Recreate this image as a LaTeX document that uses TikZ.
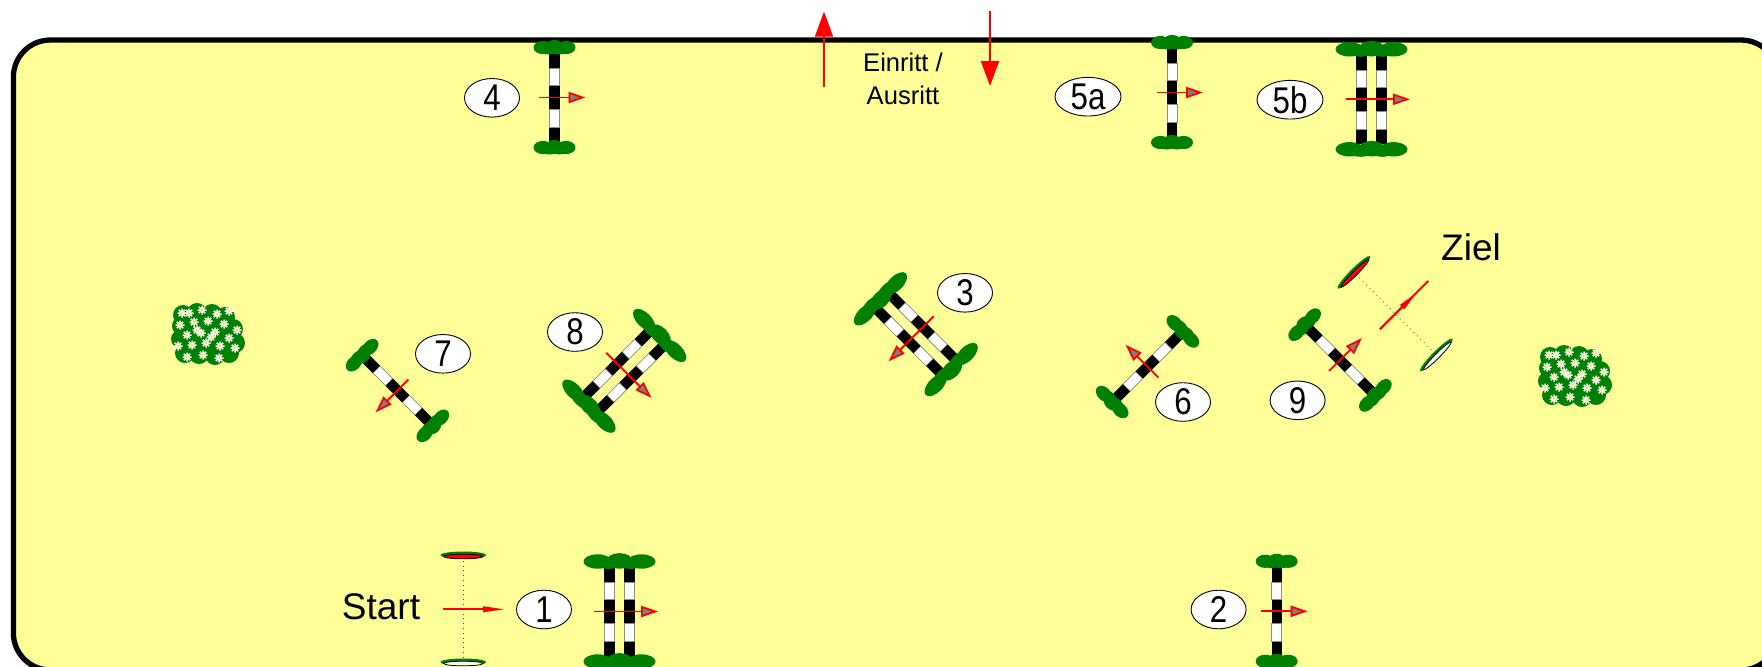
\documentclass[tikz,border=0pt]{standalone}
\usepackage{fontspec}
\usepackage{graphicx}
\setmainfont{Liberation Sans}
\usetikzlibrary{shapes.geometric,arrows.meta,calc}
\definecolor{arena}{HTML}{FFFF99}
\definecolor{stdgreen}{HTML}{008000}
\definecolor{tipgray}{HTML}{808080}
\newcommand\narrow[1]{\scalebox{0.84}[1]{#1}}
\tikzset{
  lbl/.style={ellipse, draw=black, line width=0.45pt, fill=white, inner sep=0pt,
    minimum width=27.5pt, minimum height=19.3pt, font=\fontsize{18.6}{20}\selectfont},
  lblwide/.style={lbl, minimum width=33pt},
  dirarrow/.style={red, line width=0.9pt, -{Triangle[length=8.5pt,width=5.6pt,fill=tipgray]}},
  gatearrow/.style={red, line width=1pt, -{Triangle[length=12.5pt,width=9pt]}},
  linearrow/.style={red, line width=1pt, -{Triangle[length=11pt,width=2.8pt]}},
  gateline/.style={draw=black!70, line width=0.4pt, dotted},
  bigtext/.style={font=\fontsize{18.5}{22}\selectfont, inner sep=0pt},
  smalltext/.style={font=\fontsize{12.8}{15}\selectfont, inner sep=0pt},
}
\newcommand\polebar[1]{%
  \fill[black] ({#1-5.2},-45) rectangle ({#1+5.2},45);
  \filldraw[fill=white, draw=black!45, line width=0.25pt] ({#1-5},-29.5) rectangle ({#1+5},-12);
  \filldraw[fill=white, draw=black!45, line width=0.25pt] ({#1-5},12) rectangle ({#1+5},29.5);
}
\newcommand\stdsingle[1]{%
  \fill[stdgreen] (-11.5,#1) ellipse [x radius=9.5, y radius=6.6]
                  (0,{#1-0.6}) ellipse [x radius=9, y radius=7]
                  (11.5,#1) ellipse [x radius=9.5, y radius=6.6]
                  (-5,{#1+1.5}) ellipse [x radius=8, y radius=5.5]
                  (5,{#1+1.5}) ellipse [x radius=8, y radius=5.5];
}
\newcommand\stddouble[1]{%
  \fill[stdgreen] (-22,#1) ellipse [x radius=14, y radius=7.2]
                  (0,{#1-0.6}) ellipse [x radius=13, y radius=7.8]
                  (22,#1) ellipse [x radius=14, y radius=7.2]
                  (-11,{#1+1.5}) ellipse [x radius=12, y radius=6]
                  (11,{#1+1.5}) ellipse [x radius=12, y radius=6];
}
\newcommand\singlejump[3]{%
  \begin{scope}[shift={(#1,#2)}, rotate=#3]
    \polebar{0}
    \stdsingle{-50}\stdsingle{50}
    \draw[dirarrow] (-15.5,0) -- (31,0);
  \end{scope}}
\newcommand\doublejump[3]{%
  \begin{scope}[shift={(#1,#2)}, rotate=#3]
    \polebar{-10}\polebar{10}
    \stddouble{-50}\stddouble{50}
    \draw[dirarrow] (-25.5,0) -- (38.5,0);
  \end{scope}}
\newcommand\gateflag[4]{%
  \begin{scope}[shift={(#1,#2)}, rotate=#3]
    \fill[stdgreen] (0,-0.9) ellipse [x radius=23, y radius=3.6];
    \filldraw[fill=#4, draw=black, line width=0.4pt] (0,0.5) ellipse [x radius=19.5, y radius=2.3];
  \end{scope}}
\newcommand\shrub[2]{%
  \begin{scope}[shift={(#1,#2)}]
    \fill[stdgreen] (0,0) ellipse [x radius=28, y radius=23]
      (-24,-18) circle [radius=10] (-10,-20) circle [radius=10]
      (5,-19) circle [radius=10] (18,-16) circle [radius=10]
      (26,-4) circle [radius=10] (28,10) circle [radius=10]
      (22,20) circle [radius=10] (8,22) circle [radius=10]
      (-8,21) circle [radius=10] (-22,20) circle [radius=10]
      (-27,6) circle [radius=9] (-26,-7) circle [radius=9];
    \foreach \fx/\fy in {-18/-20,-5/-23,10/-19,22/-22,-27/-8,-13/-11,1/-12,17/-9,
        30/-3,-20/2,-6/0,8/-1,22/5,-29/13,-15/12,-1/10,13/13,28/15,-20/24,-4/22,
        12/25,-10/-3,4/4,-25/-20} {
      \begin{scope}[shift={(\fx,\fy)}]
        \draw[white, line width=0.75pt] (-4.5,0) -- (4.5,0) (0,-4.5) -- (0,4.5)
          (-3.2,-3.2) -- (3.2,3.2) (-3.2,3.2) -- (3.2,-3.2);
        \fill[yellow] (0,0) circle [radius=1.3];
      \end{scope}
    }
  \end{scope}}
\begin{document}
\begin{tikzpicture}[x=0.5pt, y=-0.5pt]
  \fill[white] (0,0) rectangle (1762,666);
  \useasboundingbox (0,0) rectangle (1762,666);
  \clip (0,0) rectangle (1762,666);
  % arena
  \draw[fill=arena, line width=2.65pt, rounded corners=18.5pt] (13.4,40) rectangle (1778,670);
  % entrance / exit
  \coordinate (inA) at (824,87);  \coordinate (inB) at (824,11.7);
  \coordinate (outA) at (990,11); \coordinate (outB) at (990,86);
  \draw[gatearrow] (inA) -- (inB);
  \draw[gatearrow] (outA) -- (outB);
  \node[smalltext, anchor=base] (ein) at (903,71.7) {Einritt /};
  \node[smalltext, anchor=base] (aus) at (903,104) {Ausritt};
  % shrubs
  \shrub{207}{333}
  \shrub{1574}{375}
  % jumps
  \singlejump{554.5}{97.5}{0}
  \singlejump{1172}{92.5}{0}
  \doublejump{1371.5}{99.3}{0}
  \doublejump{619.5}{611.5}{0}
  \singlejump{1276.7}{611.3}{0}
  \singlejump{397.5}{390.5}{225}
  \doublejump{624.3}{370.8}{-45}
  \doublejump{915.8}{334.2}{225}
  \singlejump{1147.5}{366.7}{135}
  \singlejump{1340}{360}{45}
  % labels
  \node[lbl] (n4) at (492,97.8) {\narrow{4}};
  \node[lblwide] (n5a) at (1088,96.7) {\narrow{5a}};
  \node[lblwide] (n5b) at (1290,99.7) {\narrow{5b}};
  \node[lbl] (n1) at (544,609.5) {\narrow{1}};
  \node[lbl] (n2) at (1218.6,609.5) {\narrow{2}};
  \node[lbl] (n7) at (443,353.8) {\narrow{7}};
  \node[lbl] (n8) at (575,332) {\narrow{8}};
  \node[lbl] (n3) at (965,292.8) {\narrow{3}};
  \node[lbl] (n6) at (1183,402) {\narrow{6}};
  \node[lbl] (n9) at (1297.6,400.3) {\narrow{9}};
  % start line
  \coordinate (s1) at (463.3,556);
  \coordinate (s2) at (463.3,663);
  \draw[gateline] (s1) -- (s2);
  \gateflag{463.3}{556}{0}{red}
  \gateflag{463.3}{663}{0}{white}
  \coordinate (sa) at (443.3,609.3); \coordinate (sb) at (505,609.3);
  \draw[linearrow] (sa) -- (sb);
  \node[bigtext, anchor=base] (start) at (381,619.3) {Start};
  % finish line
  \coordinate (z1) at (1356,274.5);
  \coordinate (z2) at (1435.5,354);
  \draw[gateline] (z1) -- (z2);
  \gateflag{1354.5}{273}{45}{red}
  \gateflag{1437}{355.5}{45}{white}
  \coordinate (za) at (1380,329.3); \coordinate (zb) at (1428.3,281);
  \draw[red, line width=1pt] (za) -- (zb);
  \draw[linearrow] (za) -- ($(za)!0.78!(zb)$);
  \node[bigtext, anchor=base] (ziel) at (1471,260.7) {Ziel};
\end{tikzpicture}
\end{document}
